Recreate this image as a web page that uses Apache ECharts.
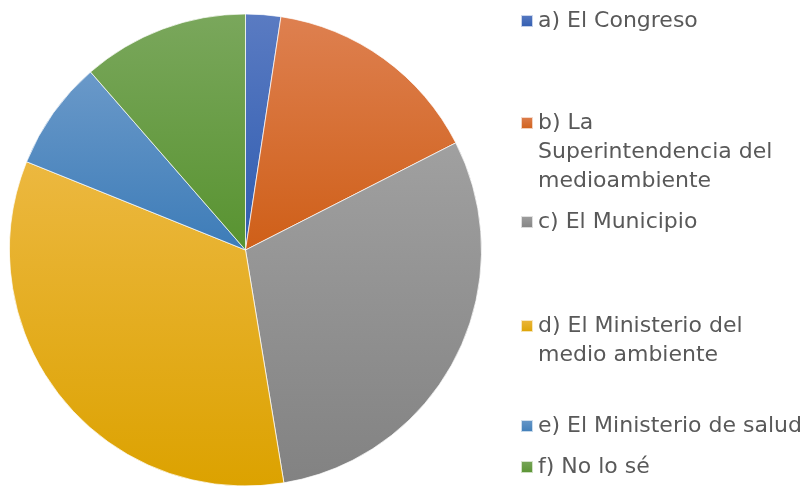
<!DOCTYPE html>
<html>
<head>
<meta charset="utf-8">
<script src="https://cdn.jsdelivr.net/npm/echarts@6/dist/echarts.min.js"></script>
<style>
  html, body { margin: 0; background: #fff; }
  #chart { width: 812px; height: 487px; }
</style>
</head>
<body>
<div id="chart"></div>
<script>
// datos del gráfico (porcentaje de respuestas)
const categories = [
  'a) El Congreso',
  'b) La Superintendencia del medioambiente',
  'c) El Municipio',
  'd) El Ministerio del medio ambiente',
  'e) El Ministerio de salud',
  'f) No lo sé'
]
const values = [2.4, 15.1, 29.9, 33.7, 7.5, 11.4]

// texto de la leyenda tal como se corta en el original
const legendLines = [
  ['a) El Congreso'],
  ['b) La', 'Superintendencia del', 'medioambiente'],
  ['c) El Municipio'],
  ['d) El Ministerio del', 'medio ambiente'],
  ['e) El Ministerio de salud'],
  ['f) No lo sé']
]

// degradado de cada sector: arriba claro, abajo oscuro
const topColors = ['#5a7bc2', '#de8050', '#a0a0a0', '#ecb840', '#6a99c9', '#7aa75c']
const bottomColors = ['#2f5cb0', '#cf5f18', '#828282', '#dca200', '#3d7cb8', '#589330']

// posición vertical (centro de la primera línea) de cada entrada de la leyenda
const legendCenters = [21, 123, 222, 326, 426, 467]
const LINE = 29
const FONT = 'DejaVu Sans'

const chart = echarts.init(document.getElementById('chart'))

// la leyenda centra el texto con el icono: se añaden líneas vacías arriba
// para que el icono quede a la altura de la primera línea
const legends = categories.map((name, i) => {
  const n = legendLines[i].length
  const text = new Array(n - 1).fill(' ').concat(legendLines[i]).join('\n')
  return {
    data: [name],
    left: 520,
    top: legendCenters[i] - (2 * n - 1) * LINE / 2,
    padding: 0,
    icon: 'rect',
    itemWidth: 12,
    itemHeight: 12,
    selectedMode: false,
    formatter: () => text,
    textStyle: {
      fontFamily: FONT,
      fontSize: 22,
      color: '#595959',
      lineHeight: LINE
    }
  }
})

chart.setOption({
  animation: false,
  legend: legends,
  series: [
    {
      type: 'pie',
      center: [245.5, 250],
      radius: 236,
      startAngle: 90,
      clockwise: true,
      label: { show: false },
      labelLine: { show: false },
      itemStyle: {
        borderColor: 'rgba(255,255,255,0.7)',
        borderWidth: 1
      },
      data: categories.map((name, i) => ({
        name,
        value: values[i],
        itemStyle: {
          color: new echarts.graphic.LinearGradient(0, 0, 0, 1, [
            { offset: 0, color: topColors[i] },
            { offset: 1, color: bottomColors[i] }
          ])
        }
      }))
    }
  ]
})

window.addEventListener('resize', () => chart.resize())
</script>
</body>
</html>
